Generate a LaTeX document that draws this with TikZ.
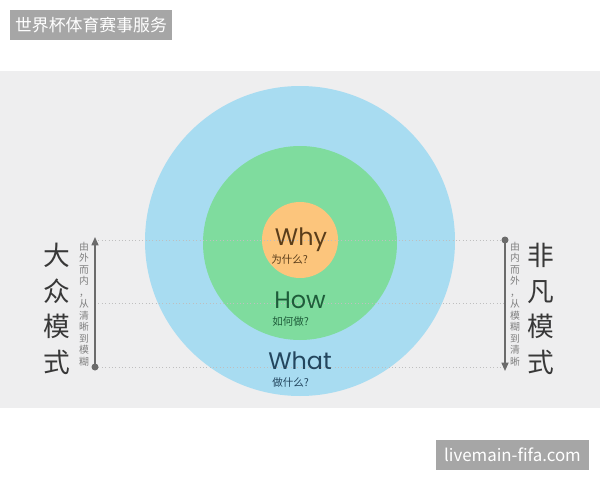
\documentclass[tikz,border=0pt]{standalone}
\usepackage{fontspec}
\setmainfont{Noto Sans CJK SC}
\newfontfamily\geofont{Poppins}
\usetikzlibrary{positioning,arrows.meta}
\definecolor{bandgray}{HTML}{EEEEEF}
\definecolor{tagray}{HTML}{A6A6A6}
\definecolor{ringblue}{HTML}{A8DCF1}
\definecolor{ringgreen}{HTML}{7FDC9E}
\definecolor{coreorange}{HTML}{FCC57C}
\definecolor{whycol}{HTML}{5A3D1A}
\definecolor{howcol}{HTML}{1E5C3A}
\definecolor{whatcol}{HTML}{23465E}
\definecolor{axisgray}{HTML}{6B6B6B}

\begin{document}
\begin{tikzpicture}[x=0.025cm,y=-0.025cm,
  every node/.style={inner sep=0pt},
  ring/.style={circle, draw=none},
  guide/.style={draw=gray!50, dotted, line width=0.4pt},
  axis/.style={draw=axisgray, line width=1.1pt},
  tag/.style={fill=tagray, text=white, font=\fontsize{12}{14}\selectfont},
  bigword/.style={font=\geofont\fontsize{17}{20}\selectfont, anchor=base, text depth=0pt},
  subword/.style={font=\fontsize{7.5}{9}\selectfont, anchor=base west},
  bigcol/.style={align=center, text=black!78, font=\fontsize{19}{25.4}\selectfont},
  smallcol/.style={align=center, text=gray, font=\fontsize{7}{8.2}\selectfont}]
\useasboundingbox (0,0) rectangle (600,480);
\fill[white] (0,0) rectangle (600,480);
\fill[bandgray] (0,71) rectangle (600,408);
% title tags
\node[tag, minimum width=162*0.025cm, minimum height=30*0.025cm] (title) at (91,25) {世界杯体育赛事服务};
\node[tag, minimum width=153*0.025cm, minimum height=30*0.025cm] (site) at (512.5,455) {livemain-fifa.com};
% rings
\node[ring, fill=ringblue, minimum size=310*0.025cm] (outer) at (300,241) {};
\node[ring, fill=ringgreen, minimum size=194*0.025cm] (middle) at (300,243) {};
\node[ring, fill=coreorange, minimum size=76*0.025cm] (inner) at (300,240) {};
% guide lines
\foreach \i/\yy in {1/240,2/303,3/367} {
  \coordinate (gl\i) at (95,\yy);
  \coordinate (gr\i) at (505,\yy);
  \draw[guide] (gl\i) -- (gr\i);
}
% side arrows
\coordinate (ltop) at (95,237);
\coordinate (rbot) at (505,371);
\draw[axis, -{Triangle[length=6pt,width=5pt]}] (gl3) -- (ltop);
\fill[axisgray] (gl3) circle (3.5);
\draw[axis, -{Triangle[length=6pt,width=5pt]}] (gr1) -- (rbot);
\fill[axisgray] (gr1) circle (3.5);
% words
\node[bigword, text=whycol] (why) at (301,245) {Why};
\node[subword, text=whycol] (whysub) at (271,263) {为什么?};
\node[bigword, text=howcol] (how) at (300,308) {How};
\node[subword, text=howcol] (howsub) at (272,325) {如何做?};
\node[bigword, text=whatcol] (what) at (300,369) {What};
\node[subword, text=whatcol] (whatsub) at (272,386) {做什么?};
% side texts
\node[bigcol] (mass) at (57,309) {大\\众\\模\\式};
\node[smallcol] (massnote) at (84,304) {由\\外\\而\\内\\，\\从\\清\\晰\\到\\模\\糊};
\node[bigcol] (rare) at (541,309) {非\\凡\\模\\式};
\node[smallcol] (rarenote) at (515,304) {由\\内\\而\\外\\，\\从\\模\\糊\\到\\清\\晰};
\end{tikzpicture}
\end{document}
